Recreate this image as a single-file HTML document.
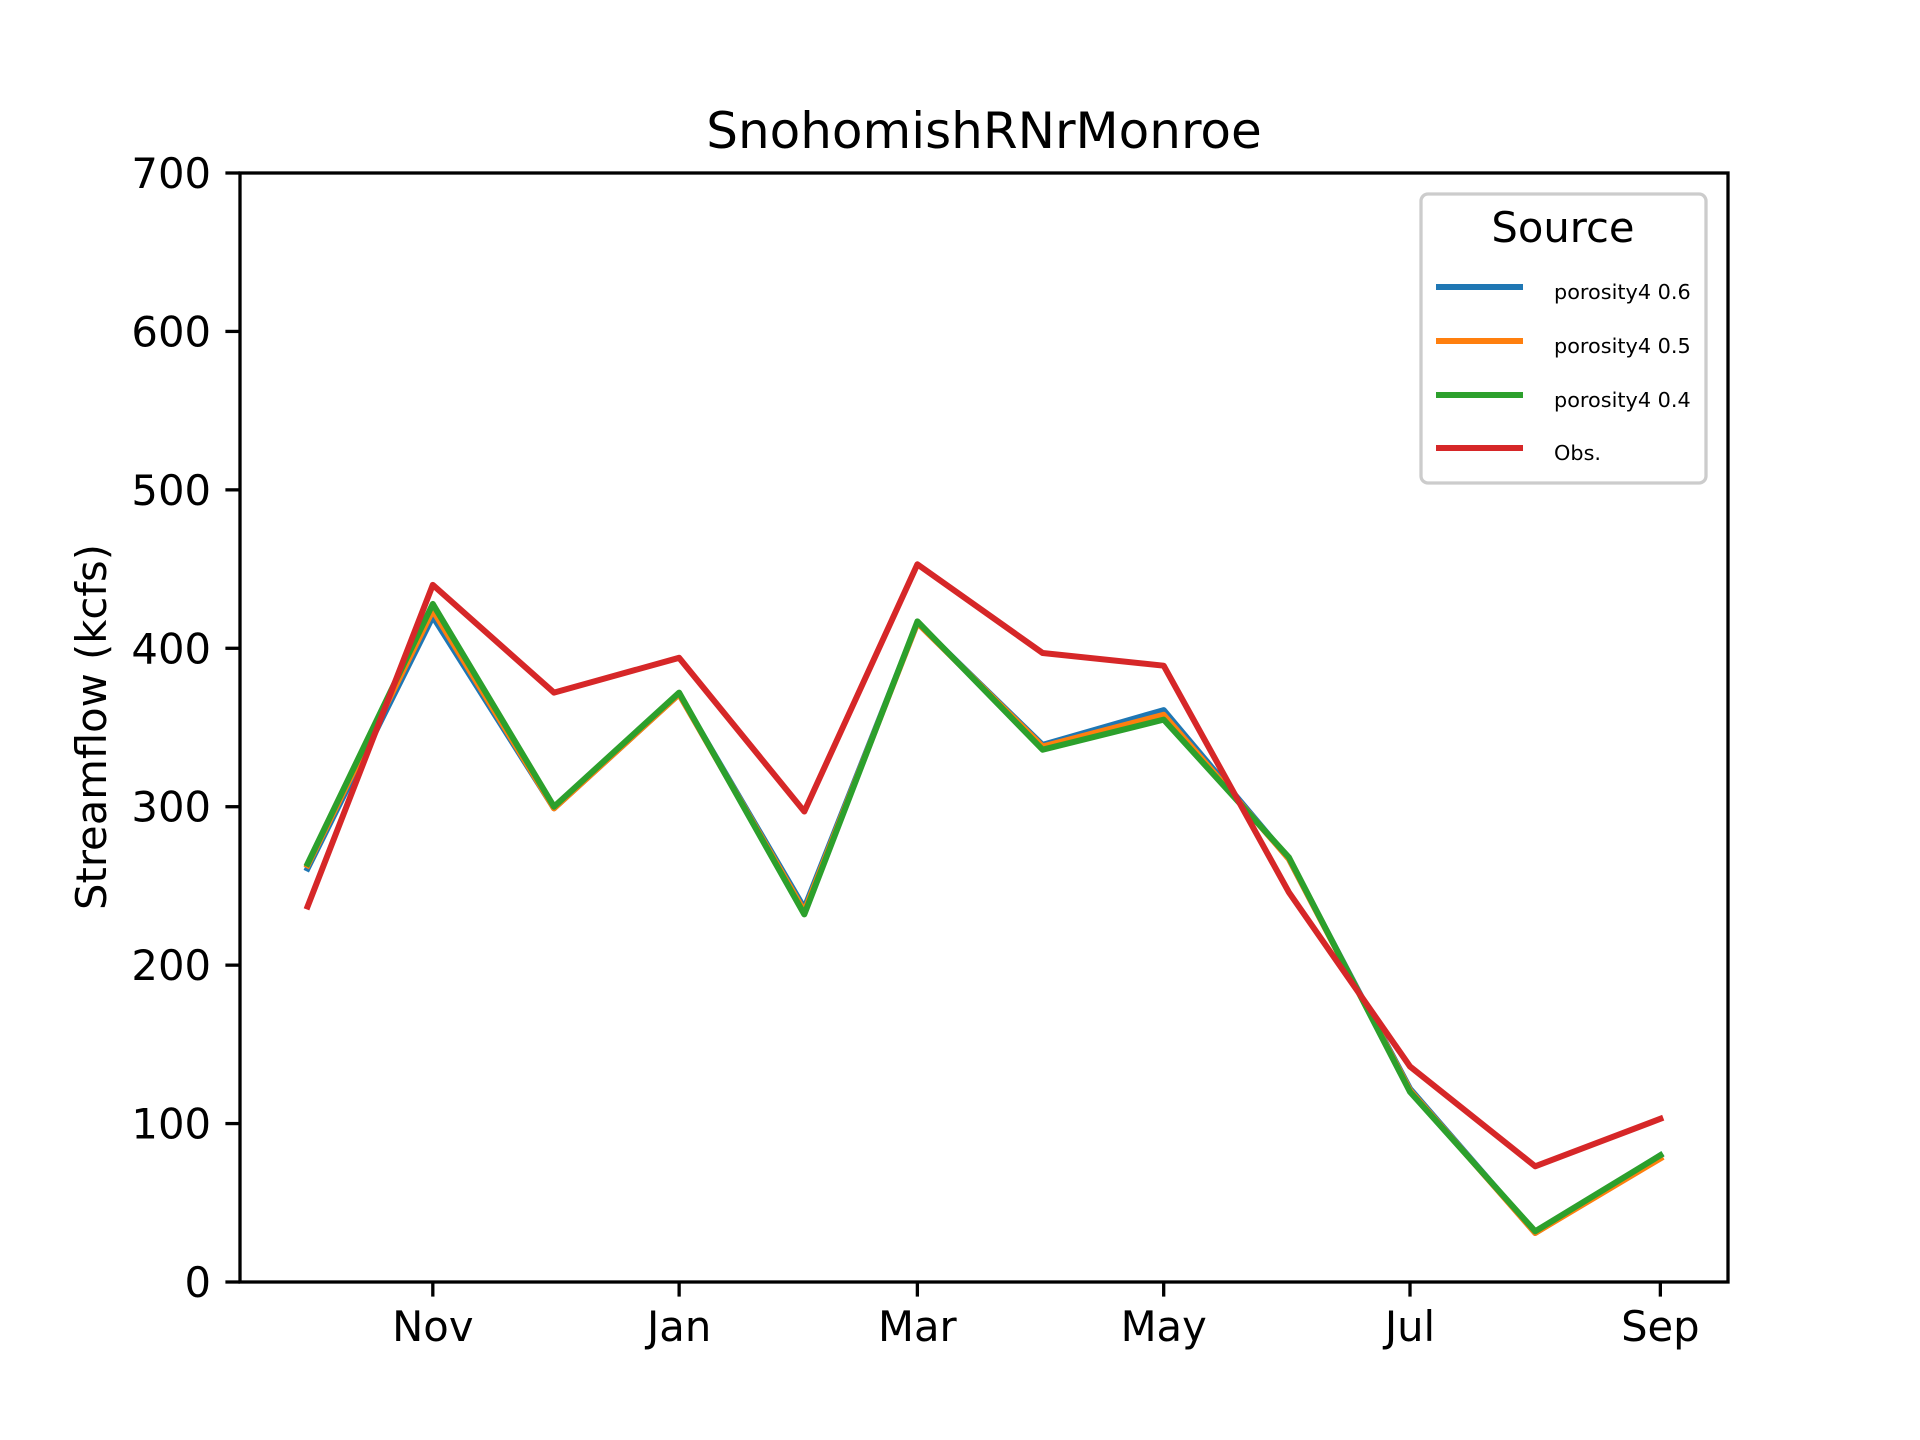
<!DOCTYPE html>
<html><head><meta charset="utf-8"><style>
html,body{margin:0;padding:0;background:#fff;}
svg{display:block;font-family:"DejaVu Sans","Liberation Sans",sans-serif;}
</style></head><body>
<svg id="chart" width="1920" height="1440" viewBox="0 0 1920 1440" xmlns="http://www.w3.org/2000/svg">
<rect width="1920" height="1440" fill="#fff"/>
<text x="984" y="148" font-size="50" text-anchor="middle">SnohomishRNrMonroe</text>
<text transform="translate(106,727) rotate(-90)" font-size="41.7" text-anchor="middle">Streamflow (kcfs)</text>
<g id="plot"></g>
<g id="axes"></g>
<g id="legend"></g>
</svg>
<script>
const dayOffsets = [0,31,61,92,123,151,182,212,243,273,304,335];
const seriesNames = ["porosity4 0.6","porosity4 0.5","porosity4 0.4","Obs."];
const seriesColors = ["#1f77b4","#ff7f0e","#2ca02c","#d62728"];
const blueVals = [261,420,299,371,236,416,339,361,267,122,31,80];
const orangeVals = [263,424,299,371,234,416,338,358,267,121,31,78];
const greenVals = [264,428,300,372,232,417,336,355,268,120,32,80];
const obsVals = [237,440,372,394,297,453,397,389,246,136,73,103];
const yTicks = [0,100,200,300,400,500,600,700];
const xTickLabels = ["Nov","Jan","Mar","May","Jul","Sep"];
const xTickDays = [31,92,151,212,273,335];

const NS="http://www.w3.org/2000/svg";
const L=240,R=1728,T=173,B=1282;
const xmin=-16.75,xmax=351.75,ymin=0,ymax=700;
function xs(d){return L+(d-xmin)/(xmax-xmin)*(R-L);}
function ys(v){return B-(v-ymin)/(ymax-ymin)*(B-T);}
function mk(tag,attrs,parent){const e=document.createElementNS(NS,tag);for(const k in attrs)e.setAttribute(k,attrs[k]);parent.appendChild(e);return e;}

const plot=document.getElementById('plot');
const allSeries=[blueVals,orangeVals,greenVals,obsVals];
const lineNames=['line-porosity-0-6','line-porosity-0-5','line-porosity-0-4','line-obs'];
allSeries.forEach((vals,i)=>{
  const pts=vals.map((v,j)=>xs(dayOffsets[j]).toFixed(1)+','+ys(v).toFixed(1)).join(' ');
  const p=mk('polyline',{points:pts,fill:'none',stroke:seriesColors[i],'stroke-width':6,'stroke-linejoin':'round','stroke-linecap':'square'},plot);
  
  
});

const axes=document.getElementById('axes');
const frame=mk('rect',{x:L,y:T,width:R-L,height:B-T,fill:'none',stroke:'#000','stroke-width':3.3},axes);


yTicks.forEach(v=>{
  const y=ys(v);
  const t=mk('line',{x1:L-14.6,x2:L,y1:y,y2:y,stroke:'#000','stroke-width':3.3},axes);
  
  
  const tx=mk('text',{x:L-29,y:y+15,'font-size':41.7,'text-anchor':'end'},axes);
  tx.textContent=v;
  
  
});
xTickDays.forEach((d,i)=>{
  const x=xs(d);
  const t=mk('line',{x1:x,x2:x,y1:B,y2:B+14.6,stroke:'#000','stroke-width':3.3},axes);
  
  
  const tx=mk('text',{x:x,y:B+59,'font-size':41.7,'text-anchor':'middle'},axes);
  tx.textContent=xTickLabels[i];
  
  
});

const lg=document.getElementById('legend');
const box=mk('rect',{x:1421,y:194,width:285,height:289,rx:7,fill:'#fff','fill-opacity':0.8,stroke:'#cccccc','stroke-width':3.3},lg);


const lt=mk('text',{x:1563,y:242,'font-size':41.7,'text-anchor':'middle'},lg);
lt.textContent='Source';


const ey=[287,341,395,448];
seriesNames.forEach((n,i)=>{
  const g=mk('g',{},lg);
  
  
  mk('line',{x1:1436,x2:1523,y1:ey[i],y2:ey[i],stroke:seriesColors[i],'stroke-width':6},g);
  const t=mk('text',{x:1554,y:ey[i]+12,'font-size':20.8},g);
  t.textContent=n;
});
</script>
</body></html>
